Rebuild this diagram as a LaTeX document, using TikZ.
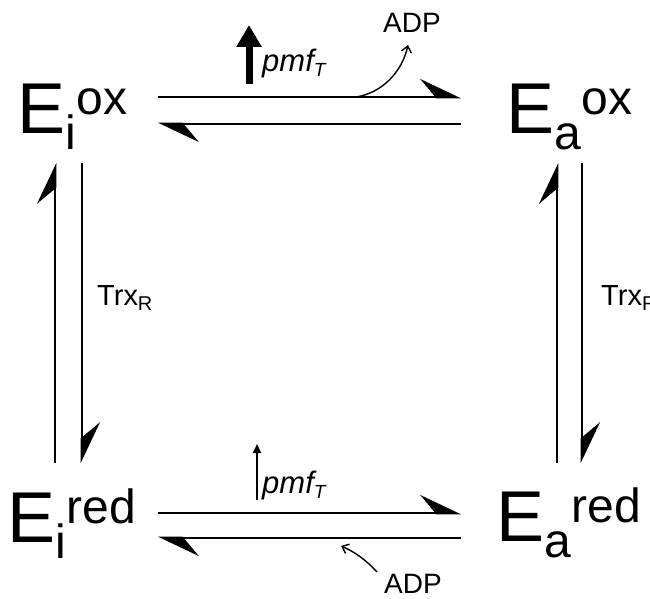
\documentclass[tikz,border=0pt]{standalone}
\usepackage{fontspec}
\setmainfont{Liberation Sans}
\usetikzlibrary{arrows.meta}
% enzyme state: E, subscript, superscript set side by side
\newcommand\enzstate[2]{E\raisebox{-16pt}{\fontsize{48}{48}\selectfont #1}\raisebox{19pt}{\fontsize{48}{48}\selectfont #2}}
\begin{document}
\begin{tikzpicture}[x=1pt,y=-1pt,
  species/.style={anchor=base west, inner sep=0pt, font=\fontsize{72}{72}\selectfont},
  lbl/.style={anchor=base west, inner sep=0pt, font=\fontsize{29}{29}\selectfont},
  rxn/.style={line width=2.6pt, -{Stealth[left,length=38pt,width=36pt,inset=15pt]}},
  thinarrow/.style={line width=1.4pt, -{Straight Barb[length=6pt,width=10pt]}},
]
\useasboundingbox (0,0) rectangle (650,599);

% the four enzyme states
\node[species] (Eiox)  at (17.5,133) {\enzstate{i}{ox}};
\node[species] (Eaox)  at (506.5,133) {\enzstate{a}{ox}};
\node[species] (Eired) at (7.5,542) {\enzstate{i}{red}};
\node[species] (Eared) at (496.5,541) {\enzstate{a}{red}};

% labels
\node[lbl] (trxL) at (97,305) {Trx\raisebox{-5pt}{\fontsize{20}{20}\selectfont R}};
\node[lbl] (trxR) at (601,305) {Trx\raisebox{-5pt}{\fontsize{20}{20}\selectfont R}};
\node[lbl, font=\fontsize{31}{31}\selectfont\itshape] (pmfTop) at (262,72) {pmf\raisebox{-5pt}{\fontsize{19}{19}\selectfont T}};
\node[lbl, font=\fontsize{31}{31}\selectfont\itshape] (pmfBot) at (262,493) {pmf\raisebox{-5pt}{\fontsize{19}{19}\selectfont T}};
\node[lbl, font=\fontsize{28}{28}\selectfont] (adpTop) at (383,33) {ADP};
\node[lbl, font=\fontsize{28}{28}\selectfont] (adpBot) at (384,593) {ADP};

% end points of the reaction arrows
\coordinate (t1a) at (158,97);  \coordinate (t1b) at (461,97);
\coordinate (t2a) at (461,124); \coordinate (t2b) at (158,124);
\coordinate (b1a) at (158,513); \coordinate (b1b) at (461,513);
\coordinate (b2a) at (461,538); \coordinate (b2b) at (158,538);
\coordinate (l1a) at (55,463);  \coordinate (l1b) at (55,163);
\coordinate (l2a) at (82,163);  \coordinate (l2b) at (82,463);
\coordinate (r1a) at (557,463); \coordinate (r1b) at (557,163);
\coordinate (r2a) at (582,163); \coordinate (r2b) at (582,463);

\draw[rxn] (t1a) -- (t1b);
\draw[rxn] (t2a) -- (t2b);
\draw[rxn] (b1a) -- (b1b);
\draw[rxn] (b2a) -- (b2b);
\draw[rxn] (l1a) -- (l1b);
\draw[rxn] (l2a) -- (l2b);
\draw[rxn] (r1a) -- (r1b);
\draw[rxn] (r2a) -- (r2b);

% proton motive force arrows
\coordinate (pmfTopFrom) at (249,84); \coordinate (pmfTopTo) at (249,25);
\draw[line width=7pt, -{Triangle[length=22pt,width=24pt]}] (pmfTopFrom) -- (pmfTopTo);
\coordinate (pmfBotFrom) at (257,500); \coordinate (pmfBotTo) at (257,444);
\draw[line width=2pt, -{Triangle[length=9pt,width=8pt]}] (pmfBotFrom) -- (pmfBotTo);

% ADP release and uptake
\coordinate (adpOut) at (356,97); \coordinate (adpOutTo) at (408,45);
\draw[thinarrow] (adpOut) .. controls (382,93) and (402,72) .. (adpOutTo);
\coordinate (adpIn) at (377,572); \coordinate (adpInTo) at (341,546);
\draw[thinarrow] (adpIn) .. controls (366,560) and (355,552) .. (adpInTo);
\end{tikzpicture}
\end{document}
